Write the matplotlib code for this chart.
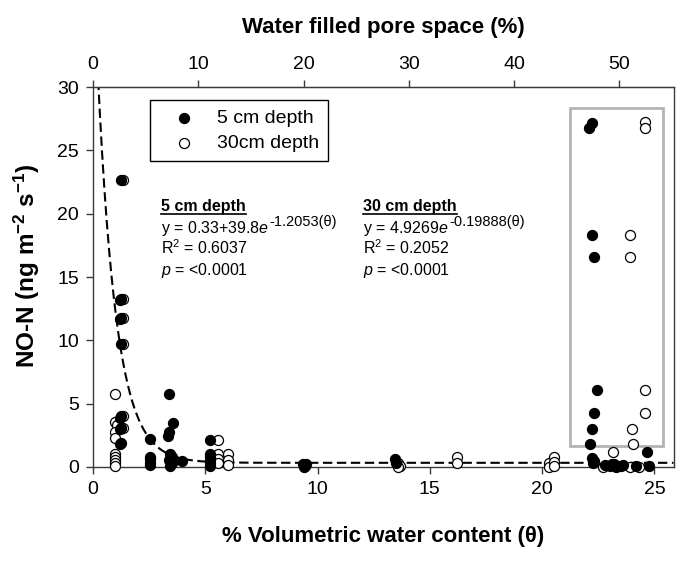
#!/usr/bin/env python
"""NO-N flux vs volumetric water content, 5 cm and 30 cm depth."""
import matplotlib
matplotlib.use("Agg")
import matplotlib.pyplot as plt
import numpy as np
from matplotlib.patches import Rectangle
from matplotlib.lines import Line2D

plt.rcParams['font.family'] = ['Liberation Sans', 'DejaVu Sans']
plt.rcParams['mathtext.fontset'] = 'custom'
plt.rcParams['mathtext.rm'] = 'Liberation Sans'
plt.rcParams['mathtext.it'] = 'Liberation Sans:italic'
plt.rcParams['mathtext.bf'] = 'Liberation Sans:bold'

# 5 cm depth (filled)
vwc_5 = [1.25, 1.25, 1.2, 1.25, 1.2, 1.25, 1.25, 1.2, 1.25, 1.2, 1.25, 1.2,
         2.55, 2.55, 2.55, 2.55, 2.55,
         3.4, 3.55, 3.4, 3.35, 3.45, 3.5, 3.4, 3.5, 3.45, 3.95,
         5.2, 5.2, 5.2, 5.2, 5.2, 5.2,
         9.35, 9.45, 9.5, 9.4, 13.45, 13.5,
         22.2, 22.1, 22.2, 22.3, 22.45, 22.3, 22.2, 22.15, 24.65, 22.2, 22.25,
         22.3, 22.8, 23.0, 23.2, 23.4, 23.6, 23.3, 23.1, 24.2, 24.75]
no_5 = [22.7, 13.3, 13.2, 11.8, 11.7, 9.7, 4.0, 3.9, 3.1, 3.0, 1.9, 1.8,
        2.25, 0.8, 0.6, 0.3, 0.15,
        5.75, 3.5, 2.75, 2.45, 1.0, 0.75, 0.55, 0.3, 0.1, 0.45,
        2.15, 1.05, 0.8, 0.55, 0.3, 0.1,
        0.2, 0.1, 0.25, 0.0, 0.6, 0.35,
        27.2, 26.75, 18.3, 16.6, 6.05, 4.3, 3.0, 1.85, 1.2, 0.7, 0.3,
        0.5, 0.15, 0.05, 0.2, 0.1, 0.15, 0.0, 0.25, 0.05, 0.05]

# 30 cm depth (open)
vwc_30 = [1.35, 1.35, 1.35, 1.35, 1.35, 1.35,
          1.0, 1.0, 1.05, 1.0, 1.0, 1.0, 1.0, 1.0, 1.0, 1.0,
          5.55, 5.55, 5.55, 5.55, 6.0, 6.0, 6.0,
          13.6, 13.65, 13.6, 16.2, 16.2,
          20.3, 20.3, 20.55, 20.55, 20.55,
          24.6, 24.6, 23.9, 23.9, 24.6, 24.6, 24.0, 24.05, 23.15,
          22.7, 23.9, 23.5, 24.3]
no_30 = [22.7, 13.3, 11.8, 9.75, 4.0, 3.1,
         5.75, 3.55, 3.3, 2.8, 2.3, 1.05, 0.8, 0.55, 0.3, 0.1,
         2.15, 1.0, 0.6, 0.3, 1.0, 0.55, 0.15,
         0.35, 0.1, 0.0, 0.75, 0.35,
         0.35, 0.0, 0.75, 0.4, 0.05,
         27.25, 26.75, 18.3, 16.6, 6.05, 4.3, 3.0, 1.85, 1.2,
         0.0, 0.0, 0.05, 0.0]

# fitted model for 5 cm depth: y = a + b*exp(-k*theta)
fit_a, fit_b, fit_k = 0.33, 39.8, 1.2053
WFPS_PER_VWC = 50 / 23.44
XMAX = 25.85

fig = plt.figure(figsize=(6.81, 5.73), dpi=100)
ax = fig.add_axes([0.1366, 0.185, 0.8524, 0.663])

theta = np.linspace(0.2, XMAX, 500)
ax.plot(theta, fit_a + fit_b * np.exp(-fit_k * theta), color="black",
        linestyle=(0, (4.5, 2.2)), linewidth=1.5, zorder=2)

ax.add_patch(Rectangle((21.22, 1.65), 4.18, 26.72, fill=False,
                       edgecolor="#b4b4b4", linewidth=2.0, zorder=1))

ax.scatter(vwc_30, no_30, s=52, facecolor="white", edgecolor="black",
           linewidth=0.9, zorder=3, clip_on=False, label="30cm depth")
ax.scatter(vwc_5, no_5, s=52, facecolor="black", edgecolor="black",
           linewidth=0.9, zorder=4, clip_on=False, label="5 cm depth")

ax.set_xlim(0, XMAX)
ax.set_ylim(0, 30)
ax.set_xticks([0, 5, 10, 15, 20, 25])
ax.set_yticks([0, 5, 10, 15, 20, 25, 30])
for s in ax.spines.values():
    s.set_color("#3a3a3a")
    s.set_linewidth(1.0)
ax.tick_params(direction="out", length=5, width=1.0, color="#3a3a3a",
               labelsize=14, pad=5)
ax.set_xlabel("% Volumetric water content (θ)", fontsize=16,
              fontweight="bold", labelpad=20)
ax.set_ylabel(r"NO-N (ng m$^{\mathbf{-2}}$ s$^{\mathbf{-1}}$)", fontsize=17.5,
              fontweight="bold")
ax.yaxis.set_label_coords(-0.088, 0.53)

top = ax.secondary_xaxis("top", functions=(lambda x: x * WFPS_PER_VWC,
                                           lambda x: x / WFPS_PER_VWC))
top.set_xticks([0, 10, 20, 30, 40, 50])
top.tick_params(direction="out", length=5, width=1.0, color="#3a3a3a",
                labelsize=14, pad=5)
top.spines["top"].set_color("#3a3a3a")
top.set_xlabel("Water filled pore space (%)", fontsize=16,
               fontweight="bold", labelpad=17)

handles, labels = ax.get_legend_handles_labels()
leg = ax.legend(handles[::-1], labels[::-1], loc="upper left",
                bbox_to_anchor=(0.098, 0.965), borderaxespad=0,
                fontsize=14, handlelength=2.6, handletextpad=0.4,
                borderpad=0.45, labelspacing=0.4, fancybox=False,
                framealpha=1, edgecolor="black")
leg.get_frame().set_linewidth(1.0)

blocks = [
    (3.03, "5 cm depth", r"y = 0.33+39.8$\mathit{e}$", "-1.2053(θ)",
     r"R$^2$ = 0.6037"),
    (12.04, "30 cm depth", r"y = 4.9269$\mathit{e}$", "-0.19888(θ)",
     r"R$^2$ = 0.2052"),
]
line_y = [20.2, 18.5, 16.8, 15.15]
heads, eqs = [], []
for x0, head, eq, expo, r2 in blocks:
    t = ax.text(x0, line_y[0], head, fontsize=11.5, fontweight="bold",
                va="baseline")
    heads.append((t, x0))
    e = ax.text(x0, line_y[1], eq, fontsize=11.5, va="baseline")
    eqs.append((e, x0, expo))
    ax.text(x0, line_y[2], r2, fontsize=11.5, va="baseline")
    ax.text(x0, line_y[3], r"$\mathit{p}$ = <0.0001", fontsize=11.5,
            va="baseline")

# underline headings and hang the exponents off the equations
fig.canvas.draw()
inv = ax.transAxes.inverted()
for t, x0 in heads:
    bb = t.get_window_extent()
    yb = ax.transData.transform((x0, line_y[0]))[1] - 2.5
    (ax0, ay), (ax1, _) = inv.transform([(bb.x0, yb), (bb.x1, yb)])
    ax.add_line(Line2D([ax0, ax1], [ay, ay], transform=ax.transAxes,
                       color="black", linewidth=1.2))
for e, x0, expo in eqs:
    bb = e.get_window_extent()
    yb = ax.transData.transform((x0, line_y[1]))[1] + 7
    ex, ey = inv.transform((bb.x1 + 0.5, yb))
    ax.text(ex, ey, expo, transform=ax.transAxes, fontsize=10.5,
            va="baseline")

fig.savefig("out.png", dpi=100)
